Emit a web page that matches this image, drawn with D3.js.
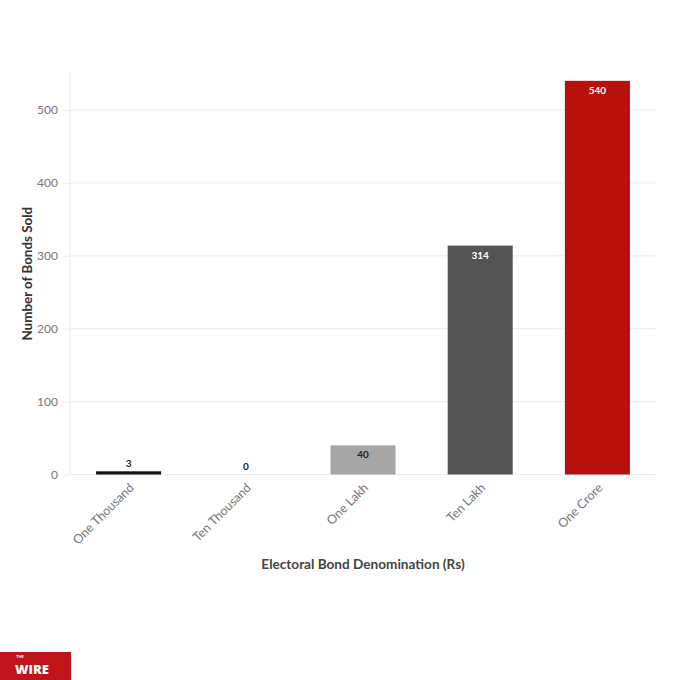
<!DOCTYPE html>
<html><head><meta charset="utf-8">
<script src="https://cdn.jsdelivr.net/npm/d3@7"></script>
<style>body{margin:0;background:#fff}</style>
</head><body>
<svg id="c" width="680" height="680"></svg>
<script>
const categories = ["One Thousand","Ten Thousand","One Lakh","Ten Lakh","One Crore"];
const values = [3,0,40,314,540];
const colors = ["#111111","#777777","#a6a6a6","#545454","#b8100a"];
const yTicks = [0,100,200,300,400,500];

const svg = d3.select("#c");
const m = {l:70, r:24, t:73, b:205};
const W = 680, H = 680;
const x = d3.scaleBand().domain(categories).range([m.l, W-m.r]).paddingInner(0.445).paddingOuter(0.2225);
const y = d3.scaleLinear().domain([0,550]).range([474.5, 474.5-550*0.729]);

const font = "'Source Sans Pro', Lato, 'Open Sans', sans-serif";

// gridlines
svg.append("g").selectAll("line").data(yTicks).join("line")
  .attr("x1", m.l).attr("x2", W-m.r)
  .attr("y1", d=>y(d)).attr("y2", d=>y(d))
  .attr("stroke","#ebebeb").attr("stroke-width",1);
// y axis line
svg.append("line").attr("x1",m.l).attr("x2",m.l).attr("y1",m.t).attr("y2",y(0))
  .attr("stroke","#ebebeb");
// y ticks
const ya = svg.append("g").attr("transform",`translate(${m.l},0)`)
  .call(d3.axisLeft(y).tickValues(yTicks).tickSize(7).tickPadding(5));
ya.select(".domain").remove();
ya.selectAll("line").attr("stroke","#ebebeb");
ya.selectAll("text").attr("fill","#777").style("font-family",font).style("font-size","12px");

// x axis labels
const xa = svg.append("g").attr("transform",`translate(0,${y(0)})`)
  .call(d3.axisBottom(x).tickSize(0).tickPadding(0));
xa.select(".domain").remove();
xa.selectAll("text").attr("fill","#777").style("font-family",font).style("font-size","12.5px")
  .attr("text-anchor","end").attr("dy",0)
  .attr("transform","translate(6,14) rotate(-45)");

// bars
svg.append("g").selectAll("rect").data(values).join("rect")
  .attr("x",(d,i)=>x(categories[i]))
  .attr("width",x.bandwidth())
  .attr("y",d=>y(d)-(d<5?1:0))
  .attr("height",d=>Math.max(0,y(0)-y(d))+(d<5&&d>0?1:0))
  .attr("fill",(d,i)=>colors[i]);

// value labels
svg.append("g").selectAll("text").data(values).join("text")
  .attr("x",(d,i)=>x(categories[i])+x.bandwidth()/2)
  .attr("y",d=> d<20 ? y(d)-5 : y(d)+13)
  .attr("text-anchor","middle")
  .attr("fill",(d,i)=> i>=3 ? "#fff" : "#222")
  .style("font-family",font).style("font-size","10px").style("font-weight","bold")
  .text(d=>d);

// axis titles
svg.append("text").attr("x",(m.l+W-m.r)/2).attr("y",569).attr("text-anchor","middle")
  .attr("fill","#444").style("font-family",font).style("font-size","13.6px").style("font-weight","bold")
  .text("Electoral Bond Denomination (Rs)");
svg.append("text").attr("transform",`translate(32,${(m.t+y(0))/2}) rotate(-90)`).attr("text-anchor","middle")
  .attr("fill","#333").style("font-family",font).style("font-size","13.4px").style("font-weight","bold")
  .text("Number of Bonds Sold");

// logo
svg.append("rect").attr("x",0).attr("y",652).attr("width",71).attr("height",28).attr("fill","#c0141a");
svg.append("text").attr("x",16).attr("y",658).attr("fill","#fff").style("font-family",font)
  .style("font-size","4px").style("font-weight","bold").text("THE");
svg.append("text").attr("x",15).attr("y",674).attr("fill","#fff").style("font-family","'Open Sans', sans-serif")
  .style("font-size","13px").style("font-weight","800").text("WIRE");
</script>
</body></html>
